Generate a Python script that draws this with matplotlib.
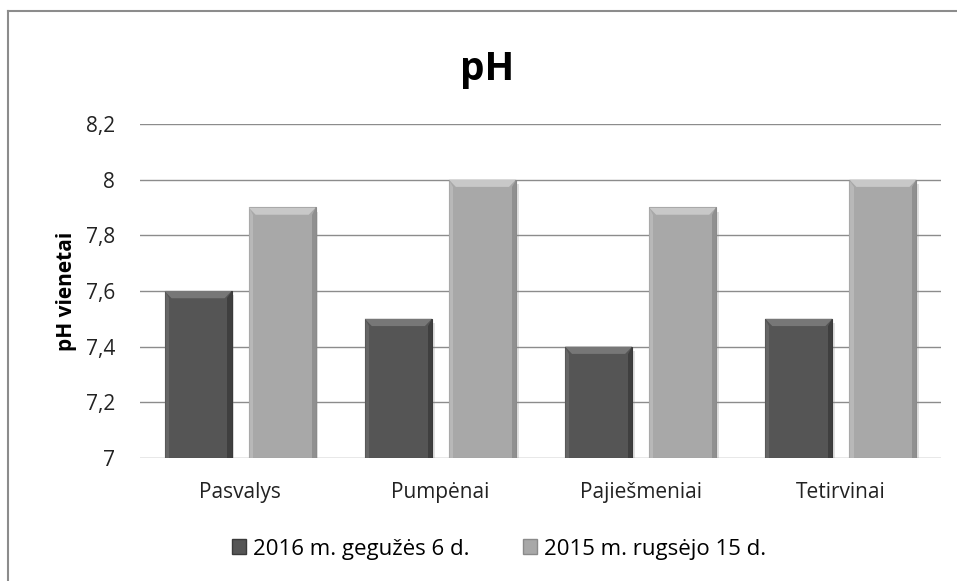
import matplotlib
matplotlib.use("Agg")
import matplotlib.pyplot as plt
import matplotlib.patheffects as pe
from matplotlib.patches import Polygon, Rectangle
import numpy as np

categories = ["Pasvalys", "Pumpėnai", "Pajiešmeniai", "Tetirvinai"]
series_names = ["2016 m. gegužės 6 d.", "2015 m. rugsėjo 15 d."]
values_2016 = [7.6, 7.5, 7.4, 7.5]
values_2015 = [7.9, 8.0, 7.9, 8.0]
yticks = [7.0, 7.2, 7.4, 7.6, 7.8, 8.0, 8.2]
ytick_labels = ["7", "7,2", "7,4", "7,6", "7,8", "8", "8,2"]

plt.rcParams['font.family'] = ['Open Sans', 'DejaVu Sans']

fig = plt.figure(figsize=(9.57, 5.81), dpi=100)
W, H = 957, 581
ax = fig.add_axes([140 / W, 1 - 458 / H, (941 - 140) / W, (458 - 124) / H])

# figure border (left & top visible)
fig.add_artist(plt.Line2D([8 / W, 8 / W], [0, 1 - 11 / H], transform=fig.transFigure,
                          color="#8c8c8c", lw=1.5))
fig.add_artist(plt.Line2D([8 / W, 1], [1 - 11 / H, 1 - 11 / H], transform=fig.transFigure,
                          color="#8c8c8c", lw=1.5))

x = np.arange(len(categories))
width = 0.335
offset = 0.21
colors = [("#555555", "#3a3a3a", "#777777"), ("#a8a8a8", "#8a8a8a", "#c8c8c8")]
ymin = 7.0
bx = 0.035  # bevel width in category units
by = 0.026  # bevel height in data units

for vals, off, (fc, dark, light) in [(values_2016, -offset, colors[0]),
                                      (values_2015, offset, colors[1])]:
    bars = ax.bar(x + off, np.array(vals) - ymin, width, bottom=ymin, color=fc,
                  edgecolor=dark, linewidth=0.8, zorder=3,
                  path_effects=[pe.SimplePatchShadow(offset=(2, -3), alpha=0.25, shadow_rgbFace="#888888"),
                                pe.Normal()])
    for b in bars:
        l = b.get_x(); r = l + b.get_width(); t = b.get_y() + b.get_height(); bo = b.get_y()
        ax.add_patch(Polygon([[l, t], [r, t], [r - bx, t - by], [l + bx, t - by]],
                             closed=True, facecolor=light, edgecolor="none", zorder=4))
        ax.add_patch(Polygon([[r, t], [r, bo], [r - bx * 0.6, bo], [r - bx * 0.6, t - by]],
                             closed=True, facecolor=dark, edgecolor="none", zorder=4, alpha=0.8))
        ax.add_patch(Polygon([[l, t], [l, bo], [l + bx * 0.6, bo], [l + bx * 0.6, t - by]],
                             closed=True, facecolor=light, edgecolor="none", zorder=4, alpha=0.5))

ax.set_xlim(-0.5, len(categories) - 0.5)
ax.set_ylim(7.0, 8.2)
ax.set_yticks(yticks)
ax.set_yticklabels(ytick_labels)
ax.set_xticks(x)
ax.set_xticklabels(categories)
ax.tick_params(axis='both', length=0, labelsize=15, colors="#222222")
ax.tick_params(axis='x', pad=17)
ax.tick_params(axis='y', pad=18)
ax.yaxis.grid(True, color="#8c8c8c", linewidth=1.0, zorder=0)
ax.set_axisbelow(True)
for s in ax.spines.values():
    s.set_visible(False)

ax.set_ylabel("pH vienetai", fontsize=15, fontweight="bold", labelpad=6)
fig.text(487 / W, 1 - 70 / H, "pH", ha="center", va="center", fontsize=28, fontweight="bold")

handles = [Rectangle((0, 0), 1, 1, facecolor=c[0], edgecolor=c[1]) for c in colors]
fig.legend(handles, series_names, loc="center", bbox_to_anchor=(499 / W, 1 - 549 / H),
           ncol=2, frameon=False, fontsize=16, handlelength=0.65, handleheight=0.65,
           handletextpad=0.3, columnspacing=2.4)

fig.savefig("out.png", dpi=100)
